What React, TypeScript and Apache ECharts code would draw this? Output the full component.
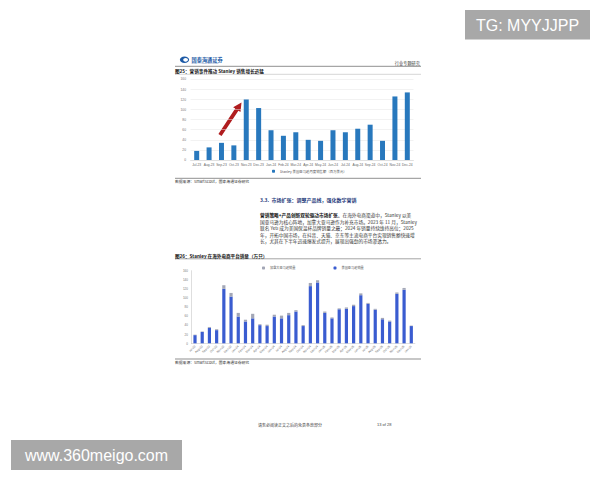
import React, { useEffect, useRef } from "react";
import * as echarts from "echarts";

// ---- Data ----
const chart1Months = [
  "Jul-23", "Aug-23", "Sep-23", "Oct-23", "Nov-23", "Dec-23",
  "Jan-24", "Feb-24", "Mar-24", "Apr-24", "May-24", "Jun-24",
  "Jul-24", "Aug-24", "Sep-24", "Oct-24", "Nov-24", "Dec-24",
];
const chart1Sales = [18, 25, 34, 29, 120, 103, 59, 48, 55, 40, 38, 59, 55, 62, 70, 38, 126, 134];

const chart2Months = [
  "Jul-23", "Aug-23", "Sep-23", "Oct-23", "Nov-23", "Dec-23",
  "Jan-24", "Feb-24", "Mar-24", "Apr-24", "May-24", "Jun-24",
  "Jul-24", "Aug-24", "Sep-24", "Oct-24", "Nov-24", "Dec-24",
  "Jan-25", "Feb-25", "Mar-25", "Apr-25", "May-25", "Jun-25",
  "Jul-25", "Aug-25", "Sep-25", "Oct-25", "Nov-25", "Dec-25", "Jan-26",
];
const usUnits = [18, 25, 34, 29, 120, 103, 59, 48, 55, 40, 38, 59, 55, 62, 70, 38, 126, 134,
  67, 55, 75, 76, 82, 106, 87, 74, 53, 48, 109, 118, 38];
const caUnits = [1, 1, 2, 2, 8, 8, 8, 4, 10, 2, 3, 4, 6, 5, 3, 2, 7, 5,
  3, 2, 2, 3, 3, 4, 2, 2, 3, 2, 3, 4, 1];

const yTicks = { min: 0, max: 160, interval: 20 };

const series1Name = "Stanley 美国亚马逊月度销售额（百万美元）";
const usName = "美国亚马逊销量";
const caName = "加拿大亚马逊销量";

const paragraph = [
  "{b|营销策略+产品创新双轮驱动市场扩张。}在海外电商渠道中，Stanley 以美",
  "国亚马逊为核心阵地，加拿大亚马逊作为补充市场。2023 年 11 月，Stanley",
  "联名 Yeti 成为美国保温杯品牌销量之最；2024 年销量持续维持高位；2025",
  "年，开拓中国市场，在抖音、天猫、京东等主流电商平台实现销售额快速增",
  "长，尤其在下半年迅速爆发式提升，展现出强劲的市场渗透力。",
];

const CJK = "'Noto Sans CJK SC', 'Noto Sans', sans-serif";
const SANS = "'Liberation Sans', Arial, sans-serif";

export default function App() {
  const ref = useRef<HTMLDivElement>(null);

  useEffect(() => {
    if (!ref.current) return;
    const chart = echarts.init(ref.current, undefined, { renderer: "svg" });

    // red arrow polygon (annotation)
    const tail = [220, 135];
    const tip = [241.5, 102.5];
    const dx = tip[0] - tail[0];
    const dy = tip[1] - tail[1];
    const len = Math.sqrt(dx * dx + dy * dy);
    const ux = dx / len, uy = dy / len;
    const nx = -uy, ny = ux;
    const sw = 1.9, hw = 4.4, hl = 8.5;
    const bx = tip[0] - ux * hl, by = tip[1] - uy * hl;
    const arrowPts = [
      [tail[0] + nx * sw, tail[1] + ny * sw],
      [bx + nx * sw, by + ny * sw],
      [bx + nx * hw, by + ny * hw],
      [tip[0], tip[1]],
      [bx - nx * hw, by - ny * hw],
      [bx - nx * sw, by - ny * sw],
      [tail[0] - nx * sw, tail[1] - ny * sw],
    ];

    const paraEls = paragraph.map((t, i) => ({
      type: "text",
      x: 260,
      y: 215 + i * 6.5,
      style: {
        text: t,
        fontSize: 4.7,
        fill: "#333",
        fontFamily: CJK,
        verticalAlign: "middle",
        rich: { b: { fontSize: 4.7, fontWeight: "bold", fill: "#111", fontFamily: CJK } },
      },
    }));

    const option: any = {
      animation: false,
      backgroundColor: "#ffffff",
      textStyle: { fontFamily: CJK },
      grid: [
        { left: 190.5, top: 79.3, width: 223, height: 80.7, containLabel: false },
        { left: 191.4, top: 270.7, width: 223.5, height: 72.6, containLabel: false },
      ],
      legend: [
        {
          data: [series1Name],
          left: 272,
          top: 169.6,
          itemWidth: 3,
          itemHeight: 3,
          padding: 0,
          textStyle: { fontSize: 3.4, color: "#555", fontFamily: CJK },
        },
        {
          data: [caName, usName],
          left: 262,
          top: 266.3,
          itemWidth: 3,
          itemHeight: 3,
          itemGap: 38,
          padding: 0,
          textStyle: { fontSize: 3.2, color: "#555", fontFamily: CJK },
        },
      ],
      xAxis: [
        {
          gridIndex: 0,
          type: "category",
          data: chart1Months,
          axisTick: { show: false },
          axisLine: { lineStyle: { color: "#cfcfcf", width: 0.5 } },
          axisLabel: { fontSize: 3.3, color: "#666", margin: 3, interval: 0, fontFamily: SANS },
        },
        {
          gridIndex: 1,
          type: "category",
          data: chart2Months,
          axisTick: { show: false },
          axisLine: { lineStyle: { color: "#bdbdbd", width: 0.5 } },
          axisLabel: { fontSize: 3, color: "#666", margin: 2.5, interval: 0, rotate: 45, fontFamily: SANS },
        },
      ],
      yAxis: [
        {
          gridIndex: 0,
          type: "value",
          ...yTicks,
          axisLine: { show: false },
          axisTick: { show: false },
          axisLabel: { fontSize: 3.3, color: "#777", margin: 4.5, fontFamily: SANS },
          splitLine: { lineStyle: { color: "#e4e4e4", width: 0.5 } },
        },
        {
          gridIndex: 1,
          type: "value",
          ...yTicks,
          axisLine: { show: true, lineStyle: { color: "#bdbdbd", width: 0.5 } },
          axisTick: { show: false },
          axisLabel: { fontSize: 3, color: "#777", margin: 3.5, fontFamily: SANS },
          splitLine: { show: false },
        },
      ],
      series: [
        {
          name: series1Name,
          type: "bar",
          xAxisIndex: 0,
          yAxisIndex: 0,
          data: chart1Sales,
          barWidth: 5,
          itemStyle: { color: "#2878bd" },
        },
        {
          name: usName,
          type: "bar",
          xAxisIndex: 1,
          yAxisIndex: 1,
          stack: "units",
          data: usUnits,
          barWidth: 3.2,
          itemStyle: { color: "#3a5cd0" },
        },
        {
          name: caName,
          type: "bar",
          xAxisIndex: 1,
          yAxisIndex: 1,
          stack: "units",
          data: caUnits,
          barWidth: 3.2,
          itemStyle: { color: "#a3a7b6" },
        },
      ],
      graphic: [
        // header
        { type: "ellipse", shape: { cx: 184.5, cy: 59.8, rx: 4.6, ry: 3.2 }, style: { fill: "#1d5aa6" } },
        { type: "ellipse", shape: { cx: 185.6, cy: 59.8, rx: 2.4, ry: 1.9 }, style: { fill: "#ffffff" } },
        {
          type: "text", x: 191.5, y: 59,
          style: { text: "国泰海通证券", fontSize: 5.2, fontWeight: "bold", fill: "#1d5aa6", fontFamily: CJK, verticalAlign: "middle" },
        },
        {
          type: "text", x: 191.5, y: 62.6,
          style: { text: "GUOTAI HAITONG SECURITIES", fontSize: 1.8, fill: "#6a86b8", fontFamily: SANS, verticalAlign: "middle" },
        },
        {
          type: "text", x: 420, y: 62.6,
          style: { text: "行业专题研究", fontSize: 4.2, fill: "#333", fontFamily: CJK, align: "right", verticalAlign: "middle" },
        },
        { type: "line", shape: { x1: 175, y1: 66.3, x2: 421, y2: 66.3 }, style: { stroke: "#444", lineWidth: 0.6 } },
        // title 1
        {
          type: "text", x: 175, y: 70.8,
          style: { text: "图25：营销事件推动 Stanley 销售增长迅猛", fontSize: 4.6, fontWeight: "bold", fill: "#111", fontFamily: CJK, verticalAlign: "middle" },
        },
        { type: "line", shape: { x1: 175, y1: 74.3, x2: 421, y2: 74.3 }, style: { stroke: "#aaa", lineWidth: 0.5 } },
        // arrow
        { type: "polygon", shape: { points: arrowPts }, style: { fill: "#b01d1f" } },
        // source 1
        { type: "line", shape: { x1: 175, y1: 178.3, x2: 421, y2: 178.3 }, style: { stroke: "#444", lineWidth: 0.6 } },
        {
          type: "text", x: 175, y: 181.3,
          style: { text: "数据来源：SmartScout，国泰海通证券研究", fontSize: 3.8, fill: "#333", fontFamily: CJK, verticalAlign: "middle" },
        },
        // section heading
        {
          type: "text", x: 260, y: 199,
          style: { text: "3.3.  市场扩张：调整产品线，强化数字营销", fontSize: 5, fontWeight: "bold", fill: "#1f3a7c", fontFamily: CJK, verticalAlign: "middle" },
        },
        ...paraEls,
        // title 2
        {
          type: "text", x: 175, y: 255.6,
          style: { text: "图26：Stanley 在海外电商平台销量（万只）", fontSize: 4.6, fontWeight: "bold", fill: "#111", fontFamily: CJK, verticalAlign: "middle" },
        },
        { type: "line", shape: { x1: 175, y1: 258.8, x2: 421, y2: 258.8 }, style: { stroke: "#666", lineWidth: 0.6 } },
        // source 2
        { type: "line", shape: { x1: 175, y1: 359, x2: 421, y2: 359 }, style: { stroke: "#444", lineWidth: 0.6 } },
        {
          type: "text", x: 175, y: 362,
          style: { text: "数据来源：SmartScout，国泰海通证券研究", fontSize: 3.8, fill: "#333", fontFamily: CJK, verticalAlign: "middle" },
        },
        // footer
        {
          type: "text", x: 258, y: 424.5,
          style: { text: "请务必阅读正文之后的免责条款部分", fontSize: 4, fill: "#444", fontFamily: CJK, verticalAlign: "middle" },
        },
        {
          type: "text", x: 377, y: 424.5,
          style: { text: "13 of 28", fontSize: 4, fill: "#444", fontFamily: SANS, verticalAlign: "middle" },
        },
        // watermark boxes
        { type: "rect", shape: { x: 465, y: 10, width: 125, height: 29.5 }, style: { fill: "#a8a8a8" } },
        {
          type: "text", x: 527.5, y: 25,
          style: { text: "TG: MYYJJPP", fontSize: 16, fill: "#ffffff", fontFamily: SANS, align: "center", verticalAlign: "middle" },
        },
        { type: "rect", shape: { x: 11, y: 440, width: 171, height: 30 }, style: { fill: "#a8a8a8" } },
        {
          type: "text", x: 96.5, y: 455,
          style: { text: "www.360meigo.com", fontSize: 16, fill: "#ffffff", fontFamily: SANS, align: "center", verticalAlign: "middle" },
        },
      ],
    };

    chart.setOption(option);
    return () => chart.dispose();
  }, []);

  return (
    <div
      ref={ref}
      style={{ position: "fixed", left: 0, top: 0, width: 600, height: 480, background: "#ffffff" }}
    />
  );
}
